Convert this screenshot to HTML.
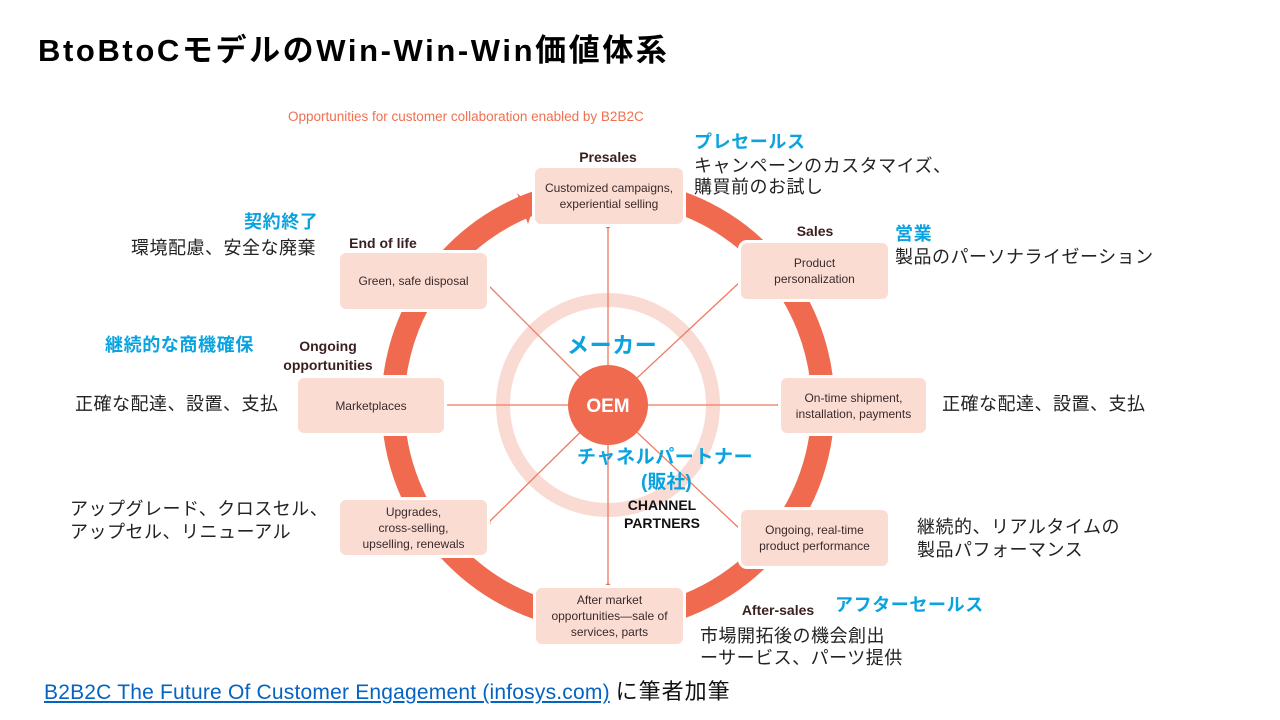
<!DOCTYPE html>
<html><head><meta charset="utf-8"><style>
body{margin:0;width:1280px;height:720px;background:#fff;position:relative;overflow:hidden;font-family:"Liberation Sans","Noto Sans CJK JP",sans-serif}
.a{position:absolute;white-space:nowrap;line-height:1}
.b{color:#0aa3e0;font-weight:bold;font-size:18px;letter-spacing:0.6px}
.k{color:#222;font-size:18px;letter-spacing:0.5px}
.box{position:absolute;background:#fbdcd3;border-radius:9px;border:3px solid #fff;display:flex;align-items:center;justify-content:center;text-align:center;font-size:12px;color:#3a2a2a;line-height:16px;font-family:"Liberation Sans Narrow","Liberation Sans",sans-serif}
.h{position:absolute;font-weight:bold;font-size:14px;color:#3a1f1f;line-height:19px;text-align:center}
</style></head><body>
<div class="a" style="left:38px;top:35px;font-size:31px;font-weight:bold;color:#000;letter-spacing:2.6px">BtoBtoCモデルのWin-Win-Win価値体系</div>
<div class="a" style="left:288px;top:110px;font-size:13.5px;color:#f07050">Opportunities for customer collaboration enabled by B2B2C</div>
<svg width="1280" height="720" style="position:absolute;left:0;top:0">
<circle cx="608" cy="405" r="215" fill="none" stroke="#ef6a4f" stroke-width="23"/>
<circle cx="608" cy="405" r="105" fill="none" stroke="#fadbd3" stroke-width="14"/>
<polygon points="533,208 517,193 528,224" fill="#ef6a4f"/>
<g stroke="#f07a60" stroke-width="1.3">
<line x1="608" y1="405" x2="608" y2="226"/>
<line x1="608" y1="405" x2="608" y2="586"/>
<line x1="608" y1="405" x2="444" y2="405"/>
<line x1="608" y1="405" x2="780" y2="405"/>
<line x1="608" y1="405" x2="741" y2="281"/>
<line x1="608" y1="405" x2="486" y2="283"/>
<line x1="608" y1="405" x2="488" y2="523"/>
<line x1="608" y1="405" x2="741" y2="530"/>
</g>
<g fill="#ef6a4f"><circle cx="608" cy="226" r="2.5"/><circle cx="608" cy="586" r="2.5"/><circle cx="444" cy="405" r="2.5"/><circle cx="780" cy="405" r="2.5"/><circle cx="741" cy="281" r="2.5"/><circle cx="486" cy="283" r="2.5"/><circle cx="488" cy="523" r="2.5"/><circle cx="741" cy="530" r="2.5"/></g>
<circle cx="608" cy="405" r="40" fill="#ef6a4f"/>
<text x="608" y="412" text-anchor="middle" font-family="Liberation Sans" font-weight="bold" font-size="19" fill="#fff">OEM</text>
</svg>
<div class="box" style="left:532px;top:165px;width:148px;height:56px">Customized campaigns,<br>experiential selling</div>
<div class="box" style="left:738px;top:240px;width:147px;height:56px">Product<br>personalization</div>
<div class="box" style="left:778px;top:375px;width:145px;height:55px">On-time shipment,<br>installation, payments</div>
<div class="box" style="left:738px;top:507px;width:147px;height:56px">Ongoing, real-time<br>product performance</div>
<div class="box" style="left:533px;top:585px;width:147px;height:56px">After market<br>opportunities—sale of<br>services, parts</div>
<div class="box" style="left:337px;top:497px;width:147px;height:55px">Upgrades,<br>cross-selling,<br>upselling, renewals</div>
<div class="box" style="left:295px;top:375px;width:146px;height:55px">Marketplaces</div>
<div class="box" style="left:337px;top:250px;width:147px;height:56px">Green, safe disposal</div>
<div class="h" style="left:560px;top:148px;width:96px">Presales</div>
<div class="h" style="left:780px;top:222px;width:70px">Sales</div>
<div class="h" style="left:343px;top:234px;width:80px">End of life</div>
<div class="h" style="left:268px;top:337px;width:120px">Ongoing<br>opportunities</div>
<div class="h" style="left:728px;top:601px;width:100px">After-sales</div>
<div class="h" style="left:612px;top:496px;width:100px;font-size:14px;line-height:18px;color:#111">CHANNEL<br>PARTNERS</div>
<div class="a b" style="left:694px;top:133px">プレセールス</div>
<div class="a k" style="left:694px;top:157px">キャンペーンのカスタマイズ、</div>
<div class="a k" style="left:694px;top:178px">購買前のお試し</div>
<div class="a b" style="left:895px;top:225px">営業</div>
<div class="a k" style="left:895px;top:248px">製品のパーソナライゼーション</div>
<div class="a b" style="left:244px;top:213px">契約終了</div>
<div class="a k" style="left:131px;top:239px">環境配慮、安全な廃棄</div>
<div class="a b" style="left:105px;top:336px">継続的な商機確保</div>
<div class="a k" style="left:75px;top:395px">正確な配達、設置、支払</div>
<div class="a k" style="left:942px;top:395px">正確な配達、設置、支払</div>
<div class="a k" style="left:70px;top:500px">アップグレード、クロスセル、</div>
<div class="a k" style="left:70px;top:523px">アップセル、リニューアル</div>
<div class="a k" style="left:917px;top:518px">継続的、リアルタイムの</div>
<div class="a k" style="left:917px;top:541px">製品パフォーマンス</div>
<div class="a b" style="left:835px;top:596px">アフターセールス</div>
<div class="a k" style="left:700px;top:627px">市場開拓後の機会創出</div>
<div class="a k" style="left:700px;top:649px">ーサービス、パーツ提供</div>
<div class="a b" style="left:567px;top:335px;font-size:22px">メーカー</div>
<div class="a b" style="left:577px;top:448px;font-size:19px">チャネルパートナー</div>
<div class="a b" style="left:641px;top:473px;font-size:19px;letter-spacing:0">(販社)</div>
<div class="a" style="left:44px;top:681px;font-size:21px"><span style="color:#0563c1;text-decoration:underline;letter-spacing:0.2px">B2B2C The Future Of Customer Engagement (infosys.com)</span> <span style="color:#111;font-size:22px;letter-spacing:1px">に筆者加筆</span></div>
</body></html>
